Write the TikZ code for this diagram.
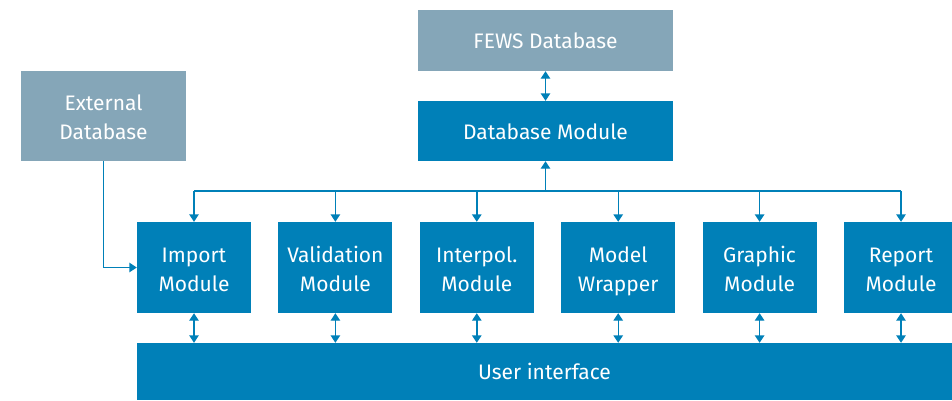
\documentclass[tikz,border=0pt]{standalone}
\usepackage{fontspec}
\setmainfont{Fira Sans}
\usetikzlibrary{positioning,arrows.meta}
\definecolor{modblue}{RGB}{0,128,184}
\definecolor{dbgrey}{RGB}{133,166,184}
\newcommand{\capstrut}{\rule[-5pt]{0pt}{26pt}}

\begin{document}
\begin{tikzpicture}[x=1pt,y=-1pt]
\tikzset{
    every node/.style = {rectangle, inner sep=0pt, align=center, text=white,
                         font=\fontsize{21}{29}\selectfont,
                         execute at begin node=\capstrut, execute at end node=\capstrut},
    twoline/.style = {text height=50pt, text depth=3pt},
    dbbox/.style = {fill=dbgrey},
    modbox/.style = {fill=modblue, twoline, minimum width=114pt, minimum height=91pt},
    link/.style = {draw=modblue, line width=1.4pt,
                   >={Triangle[width=9.5pt,length=7.5pt]}},
}
\useasboundingbox (0,0) rectangle (952,400);

% -------------------------------------------------------
\node[dbbox, minimum width=255pt, minimum height=61pt] (fews) at (545.5,40.5) {FEWS Database};
\node[fill=modblue, minimum width=255pt, minimum height=60pt] (dbm) at (545.5,131) {Database Module};
\node[dbbox, twoline, minimum width=165pt, minimum height=90pt] (ext) at (103.5,116) {External\\Database};

\node[modbox] (import) at (194,267.5) {Import\\Module};
\node[modbox, right=27pt of import] (valid) {Validation\\Module};
\node[modbox, right=27pt of valid] (interp) {Interpol.\\Module};
\node[modbox, right=27pt of interp] (model) {Model\\Wrapper};
\node[modbox, right=27pt of model] (graphic) {Graphic\\Module};
\node[modbox, right=27pt of graphic] (report) {Report\\Module};

\node[fill=modblue, minimum width=815pt, minimum height=57pt] (ui) at (544.5,371.5) {User interface};

\coordinate (bus) at (545.5,191);

% -------------------------------------------------------
\draw[link, <->] (fews) -- (dbm);
\draw[link, ->] (dbm.south |- bus) -- (dbm.south);
\draw[link] (import.north |- bus) -- (report.north |- bus);

\foreach \m in {import,valid,interp,model,graphic,report}{
    \draw[link, ->] (\m.north |- bus) -- (\m.north);
    \draw[link, <->] (\m.south) -- (\m.south |- ui.north);
}

\draw[link, ->] (ext.south) |- (import.west);
\end{tikzpicture}
\end{document}
